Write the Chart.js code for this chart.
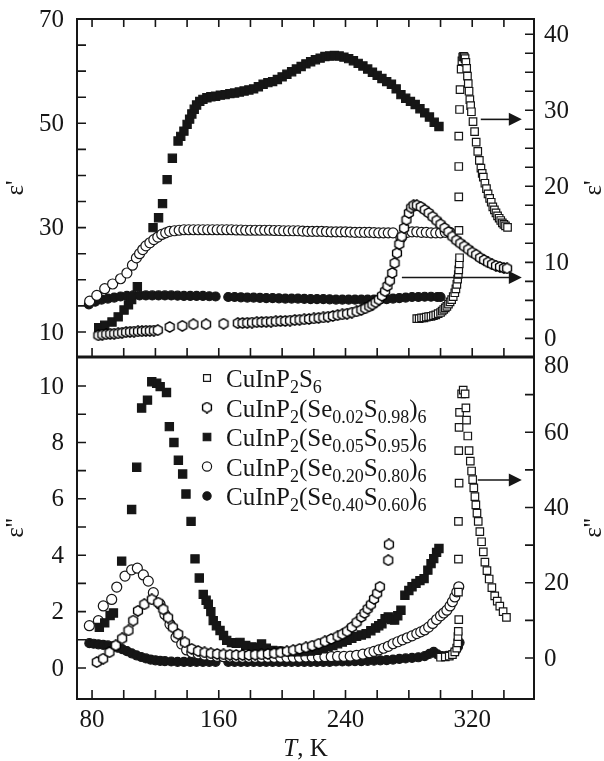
<!DOCTYPE html>
<html>
<head>
<meta charset="utf-8">
<script src="https://cdn.jsdelivr.net/npm/chart.js@4.4.0/dist/chart.umd.min.js"></script>
<style>
  html, body { margin: 0; padding: 0; background: #fff; }
  #wrap { position: relative; width: 604px; height: 761px; overflow: hidden; }
  canvas { position: absolute; left: 0; }
  #top { top: 0; }
  #bot { top: 330px; }
</style>
</head>
<body>
<div id="wrap">
  <canvas id="top" width="604" height="380"></canvas>
  <canvas id="bot" width="604" height="431"></canvas>
</div>
<script>
// ---- axis ticks / labels ----
const tempTicks = [80, 100, 120, 140, 160, 180, 200, 220, 240, 260, 280, 300, 320, 340];
const tempLabels = [80, 160, 240, 320];
const eps1Ticks = [10, 15, 20, 25, 30, 35, 40, 45, 50, 55, 60, 65, 70];
const eps1Labels = [10, 30, 50, 70];
const eps1RTicks = [0, 2.5, 5, 7.5, 10, 12.5, 15, 17.5, 20, 22.5, 25, 27.5, 30, 32.5, 35, 37.5, 40];
const eps1RLabels = [0, 10, 20, 30, 40];
const eps2Ticks = [0, 1, 2, 3, 4, 5, 6, 7, 8, 9, 10];
const eps2Labels = [0, 2, 4, 6, 8, 10];
const eps2RTicks = [0, 10, 20, 30, 40, 50, 60, 70, 80];
const eps2RLabels = [0, 20, 40, 60, 80];

const legendNames = ['CuInP2S6', 'CuInP2(Se0.02S0.98)6', 'CuInP2(Se0.05S0.95)6',
                     'CuInP2(Se0.20S0.80)6', 'CuInP2(Se0.40S0.60)6'];

// ---- eps' (upper panel), [T, value] ----
// CuInP2S6 and x=0.02 are read on the right axis
const cipsEps1 = [[285,2.6],[286.5,2.6],[288,2.7],[289.5,2.7],[291,2.8],[292.5,2.85],[294,2.9],[295.5,3.0],[297,3.1],[298.5,3.25],[300,3.4],[301,3.6],[302,3.8],[303,4.0],[304,4.2],[305,4.5],[306,4.8],[307,5.1],[308,5.5],[309,6.0],[309.7,6.5],[310.3,7.1],[310.8,7.8],[311.2,8.4],[311.5,9.0],[311.8,9.8],[312,10.6],[311.6,14.2],[311.5,18.6],[311.5,22.6],[311.5,26.6],[312,30.1],[312.3,32.7],[313,35.4],[313.5,36.5],[314,37.0],[314.5,37.1],[315,37.0],[315.5,36.8],[316,36.3],[316.5,35.5],[317,34.5],[317.5,33.5],[318,32.5],[318.5,31.4],[319,30.6],[319.5,29.8],[320.5,28.5],[321.5,27.2],[322.5,25.8],[323.5,24.6],[324.5,23.4],[325.5,22.4],[326.3,21.7],[327,21.2],[328,20.4],[329,19.7],[330,19.0],[331,18.4],[332,17.9],[333,17.3],[334,16.9],[335,16.5],[336,16.1],[337,15.8],[338,15.5],[339,15.2],[340,15.0],[341,14.8],[342.3,14.6]];
const s02Eps1 = [[84,0.4],[86.5,0.5],[89,0.55],[91.5,0.6],[94,0.62],[96.5,0.66],[99,0.75],[101.5,0.82],[104,0.87],[106.5,0.9],[109,0.92],[111.5,0.95],[114,1.0],[116.5,1.0],[119,1.03],[121.5,1.08],[129,1.5],[137,1.65],[144,1.85],[152,1.85],[163,1.93],[172,2.0],[175,2.02],[178,2.05],[181,2.08],[184,2.12],[187,2.15],[190,2.18],[193,2.2],[196,2.25],[199,2.28],[202,2.3],[205,2.35],[208,2.4],[211,2.45],[214,2.5],[217,2.55],[220,2.62],[223,2.7],[226,2.75],[229,2.85],[232,2.95],[235,3.05],[238,3.15],[241,3.25],[244,3.4],[247,3.55],[250,3.75],[252.5,3.95],[255,4.2],[257,4.45],[259,4.75],[261,5.1],[263,5.6],[265,6.2],[266.5,6.9],[268,7.6],[269.5,8.6],[271,9.9],[272.5,11.2],[274,12.4],[275.5,13.4],[277,14.5],[278.5,15.6],[280,16.5],[281.5,17.2],[283,17.5],[285,17.5],[287.5,17.3],[290,16.9],[292.5,16.5],[295,16.0],[297.5,15.5],[300,15.0],[302.5,14.5],[305,14.0],[307.5,13.4],[310,12.9],[312.5,12.5],[315,12.1],[317.5,11.7],[320,11.3],[322.5,11.0],[325,10.6],[327.5,10.3],[330,10.0],[332.5,9.75],[335,9.55],[337.5,9.4],[340,9.25],[342,9.2]];
// the rest on the left axis
const s05Eps1 = [[84.2,10.8],[88,11.3],[92.6,11.9],[96.5,12.9],[100.2,14.2],[103,15.2],[105,16.2],[108.6,18.7],[118.5,30],[122,31.9],[124.5,34.6],[127.4,39.2],[130.7,43.3],[134.3,46.6],[136,47.5],[138,48.5],[140,49.8],[141.6,50.8],[143,51.8],[144.5,52.7],[146,53.5],[148,54.2],[150,54.6],[152.5,54.9],[155,55.1],[158,55.2],[161,55.4],[164,55.5],[167,55.7],[170,55.8],[173,56.0],[176,56.2],[179,56.4],[182,56.6],[185,57.0],[188,57.5],[191,57.8],[194,58.0],[197,58.4],[200,58.9],[203,59.4],[206,59.9],[209,60.4],[212,60.9],[215,61.4],[218,61.8],[221,62.2],[224,62.5],[227,62.8],[230,62.9],[233,63.0],[236,62.9],[239,62.7],[242,62.4],[245,62.0],[248,61.5],[251,61.0],[254,60.4],[257,59.8],[260,59.2],[263,58.6],[266,58.0],[269,57.5],[272,56.6],[275,55.5],[278,54.8],[281,54.2],[284,53.6],[287,52.8],[290,52.0],[293,51.2],[296,50.2],[299,49.4]];
const s20Eps1 = [[78.5,15.9],[83,17.0],[88,18.3],[93,19.2],[98,20.2],[102,21.3],[105.5,22.8],[108,24.2],[110,25.0],[112,25.8],[114,26.5],[116.5,27.1],[119,27.7],[121.5,28.2],[124,28.7],[126.5,29.0],[129,29.3],[132,29.4],[135,29.5],[138,29.6],[141,29.6],[144,29.6],[147,29.6],[150,29.6],[153,29.6],[156,29.6],[159,29.6],[162,29.6],[165,29.6],[168,29.6],[171,29.55],[174,29.55],[177,29.5],[180,29.5],[183,29.5],[186,29.5],[189,29.5],[192,29.5],[195,29.45],[198,29.45],[201,29.4],[204,29.4],[207,29.4],[210,29.4],[213,29.35],[216,29.3],[219,29.3],[222,29.3],[225,29.3],[228,29.25],[231,29.2],[234,29.2],[237,29.2],[240,29.2],[243,29.15],[246,29.1],[249,29.1],[252,29.1],[255,29.1],[258,29.05],[261,29.0],[264,29.0],[267,29.0],[270,29.0],[275,28.0],[279,29.1],[282,29.2],[285,29.2],[288,29.1],[291,29.1],[294,29.0],[297,29.0],[300,29.0],[303,29.1],[306,29.1]];
const s40Eps1 = [[78,15.3],[82,15.8],[86,16.2],[90,16.4],[94,16.6],[98,16.8],[102,16.9],[106,17.0],[110,17.0],[114,17.0],[118,17.0],[122,17.0],[126,17.0],[130,17.0],[134,16.95],[138,16.9],[142,16.9],[146,16.9],[150,16.9],[154,16.85],[158,16.8],[166,16.7],[170,16.7],[174,16.65],[178,16.6],[182,16.6],[186,16.55],[190,16.5],[194,16.5],[198,16.45],[202,16.4],[206,16.4],[210,16.4],[214,16.35],[218,16.3],[222,16.3],[226,16.3],[230,16.25],[234,16.2],[238,16.2],[242,16.2],[246,16.2],[250,16.2],[254,16.2],[258,16.2],[262,16.25],[266,16.3],[270,16.4],[274,16.5],[278,16.6],[282,16.7],[286,16.7],[290,16.75],[294,16.75],[298,16.7],[300,16.7]];

// ---- eps'' (lower panel), [T, value] ----
// CuInP2S6 on the right axis
const cipsEps2 = [[300,0.2],[303,0.3],[305.5,0.5],[307.5,0.9],[309,1.6],[310.2,2.6],[310.8,4.0],[311,5.7],[311.2,7.1],[311.5,10.2],[311.3,17.5],[311.3,26.3],[311.3,36.3],[311.7,46.5],[311.5,55.1],[311.7,61.3],[312,65.3],[313.3,70.2],[314.3,71.2],[315.5,70.2],[316,66.5],[316.4,63.2],[317.2,59],[318,55.1],[318.8,52.3],[319.6,49.7],[320.3,47.4],[321,45.2],[321.7,42.9],[322.3,40.7],[323,38.5],[323.8,36.3],[324.8,33.6],[325.9,30.9],[327,28.2],[328,25.5],[329.3,23.2],[330.7,21.0],[332.4,18.7],[334.2,16.5],[335.8,15.1],[337.4,13.8],[339.5,12.3],[341.6,10.8]];
const s02Eps2 = [[83,0.21],[87,0.33],[91,0.56],[95,0.8],[99,1.05],[103,1.33],[106,1.68],[109,2.03],[113,2.26],[117.7,2.43],[121.8,2.32],[125,2.08],[128,1.79],[131,1.44],[134.4,1.2],[138.6,0.91],[142.9,0.68],[147,0.6],[151,0.55],[155,0.52],[159,0.5],[163,0.48],[167,0.47],[171,0.46],[175,0.46],[179,0.46],[183,0.47],[187,0.48],[191,0.5],[195,0.52],[199,0.55],[203,0.59],[207,0.63],[211,0.68],[215,0.73],[219,0.79],[223,0.86],[227,0.94],[231,1.03],[235,1.12],[238,1.2],[241,1.3],[244,1.45],[247,1.62],[250,1.81],[252,1.95],[254,2.1],[256,2.25],[258,2.45],[260,2.65],[261.7,2.88],[267,3.82],[267.4,4.38]];
const s05Eps2 = [[84.6,1.44],[88,1.6],[91.4,1.86],[93.5,1.95],[98.7,3.79],[105,5.62],[108.2,7.12],[111.3,9.22],[115,9.5],[117.7,10.15],[120.8,10.1],[123,9.98],[127,9.77],[128.8,8.56],[131.7,8.0],[134.5,7.37],[137.2,6.88],[139.3,6.17],[142.5,5.2],[145,3.87],[147.7,3.19],[150.2,2.61],[152,2.4],[153.4,2.26],[155,2.0],[156.5,1.68],[158.5,1.5],[160.8,1.33],[163,1.15],[165,0.98],[168,0.9],[171,0.88],[173.4,0.91],[177,0.8],[181,0.75],[184,0.72],[187,0.85],[190,0.7],[194,0.62],[198,0.6],[202,0.58],[206,0.57],[210,0.57],[214,0.58],[218,0.6],[222,0.63],[226,0.68],[229,0.75],[232,0.8],[235,0.86],[238,0.92],[241,0.98],[244,1.05],[247,1.12],[250,1.17],[253,1.22],[256,1.32],[259,1.42],[261,1.5],[263,1.57],[265,1.75],[267,1.81],[269,1.72],[271,1.7],[273,1.85],[275,2.05],[277.5,2.58],[280,2.75],[282,2.88],[284.5,3.0],[287,3.1],[289.6,3.17],[292,3.47],[294,3.7],[295.7,3.88],[297.5,4.1],[299,4.24]];
const s20Eps2 = [[78.3,1.5],[84,1.68],[87.1,2.2],[92.4,2.43],[95.6,2.87],[100.8,3.26],[105,3.48],[108.6,3.54],[112.4,3.3],[115.5,3.08],[118.7,2.67],[122.9,2.26],[126,1.9],[129.2,1.55],[133,1.09],[136.6,0.85],[139.7,0.64],[143,0.55],[147,0.5],[151,0.46],[155,0.43],[159,0.41],[163,0.4],[167,0.39],[171,0.38],[175,0.38],[179,0.38],[183,0.38],[187,0.38],[191,0.38],[195,0.38],[199,0.38],[203,0.38],[207,0.38],[211,0.38],[215,0.39],[219,0.39],[223,0.39],[227,0.4],[231,0.4],[235,0.41],[239,0.41],[243,0.42],[247,0.45],[251,0.49],[255,0.54],[258,0.59],[261,0.64],[264,0.7],[267,0.77],[270,0.86],[273,0.93],[276,1.0],[279,1.07],[282,1.14],[285,1.22],[287.5,1.28],[290,1.35],[292.5,1.45],[295,1.58],[297.5,1.72],[300,1.85],[302,1.95],[304,2.05],[306,2.2],[307.5,2.35],[309,2.52],[310.3,2.7],[311.5,2.88]];
const s40Eps2 = [[78.3,0.88],[81,0.86],[84,0.84],[87,0.82],[90,0.8],[93,0.77],[96,0.72],[99,0.67],[102,0.6],[105,0.52],[108,0.45],[111,0.39],[114,0.34],[117,0.3],[120,0.27],[123,0.25],[126,0.24],[130,0.23],[134,0.22],[138,0.22],[142,0.22],[146,0.22],[150,0.22],[154,0.22],[158,0.22],[166,0.22],[170,0.22],[174,0.22],[178,0.22],[182,0.22],[186,0.22],[190,0.22],[194,0.22],[198,0.22],[202,0.22],[206,0.22],[210,0.22],[214,0.22],[218,0.22],[222,0.22],[226,0.22],[230,0.22],[234,0.23],[238,0.23],[242,0.23],[246,0.24],[250,0.24],[254,0.25],[258,0.26],[262,0.27],[266,0.28],[270,0.3],[274,0.32],[278,0.34],[282,0.36],[286,0.38],[290,0.42],[293,0.5],[295.7,0.57],[298,0.48],[301,0.42],[304,0.43],[307,0.47],[309,0.57],[311,0.75],[312,0.9]];

// arrows pointing to the right axis: from T, to T, at right-axis value
const arrowsTop = [{ from: 325.4, to: 351.3, at: 28.8 }, { from: 275.6, to: 351.3, at: 8.0 }];
const arrowsBottom = [{ from: 323.5, to: 351.3, at: 47.3 }];

const ink = '#161616';
const serif = '"Liberation Serif", "Times New Roman", serif';

function hexagon(size) {
  const c = document.createElement('canvas');
  c.width = c.height = size;
  const g = c.getContext('2d');
  const r = size / 2 - 0.9;
  g.beginPath();
  for (let i = 0; i < 6; i++) {
    const a = -Math.PI / 2 + i * Math.PI / 3;
    const px = size / 2 + r * Math.cos(a), py = size / 2 + r * Math.sin(a);
    if (i === 0) g.moveTo(px, py); else g.lineTo(px, py);
  }
  g.closePath();
  g.fillStyle = '#fff';
  g.fill();
  g.strokeStyle = '#000';
  g.lineWidth = 1.4;
  g.stroke();
  return c;
}
const hex = hexagon(12);

const marks = [
  { pointStyle: 'rect', radius: 5.3, fill: '#fff' },
  { pointStyle: hex, radius: 6, fill: '#fff' },
  { pointStyle: 'rect', radius: 5.8, fill: ink },
  { pointStyle: 'circle', radius: 5, fill: '#fff' },
  { pointStyle: 'circle', radius: 4.5, fill: ink }
];

function dataset(i, data, axis) {
  const m = marks[i];
  return {
    label: legendNames[i], data: data, yAxisID: axis, clip: 0,
    pointStyle: m.pointStyle, pointRadius: m.radius,
    backgroundColor: m.fill, borderColor: ink, pointBorderWidth: 1.2
  };
}

function drawFormula(ctx, str, x, y) {
  str.replace(/([0-9.]+)|([^0-9.]+)/g, (m, num) => {
    ctx.font = num ? '18px ' + serif : '25px ' + serif;
    ctx.fillText(m, x, num ? y + 6 : y);
    x += ctx.measureText(m).width;
  });
}

function panel(cfg) {
  return {
    id: 'panel',
    afterDraw(chart) {
      const { ctx, chartArea: a, scales } = chart;
      const x = scales.x, yL = scales.yL, yR = scales.yR;
      ctx.save();
      ctx.beginPath();
      ctx.strokeStyle = ink;
      ctx.fillStyle = ink;
      ctx.lineWidth = 2;
      ctx.strokeRect(a.left, a.top, a.right - a.left, a.bottom - a.top);
      if (cfg.divider) {
        ctx.lineWidth = 3.2;
        ctx.beginPath(); ctx.moveTo(a.left - 1, a.top); ctx.lineTo(a.right + 1, a.top); ctx.stroke();
      }
      ctx.lineWidth = 1.6;
      ctx.beginPath();
      tempTicks.forEach(t => {
        const px = x.getPixelForValue(t);
        ctx.moveTo(px, a.bottom); ctx.lineTo(px, a.bottom - 9);
        if (cfg.topTicks) { ctx.moveTo(px, a.top); ctx.lineTo(px, a.top + 8); }
      });
      cfg.leftTicks.forEach(v => {
        const py = yL.getPixelForValue(v);
        ctx.moveTo(a.left, py); ctx.lineTo(a.left + 9, py);
      });
      cfg.rightTicks.forEach(v => {
        const py = yR.getPixelForValue(v);
        ctx.moveTo(a.right, py); ctx.lineTo(a.right - 9, py);
      });
      ctx.stroke();
      ctx.beginPath();

      ctx.font = '25px ' + serif;
      ctx.textBaseline = 'middle';
      ctx.textAlign = 'right';
      cfg.leftLabels.forEach(v => ctx.fillText(String(v), a.left - 13, yL.getPixelForValue(v) + 1));
      ctx.textAlign = 'left';
      cfg.rightLabels.forEach(v => {
        let py = yR.getPixelForValue(v) + 1;
        if (py < a.top + 4) py += 8;
        ctx.fillText(String(v), a.right + 10, py);
      });
      if (cfg.xLabels) {
        ctx.textAlign = 'center';
        ctx.textBaseline = 'top';
        tempLabels.forEach(t => ctx.fillText(String(t), x.getPixelForValue(t), a.bottom + 9));
        ctx.textBaseline = 'alphabetic';
        const cx = (a.left + a.right) / 2;
        ctx.font = 'italic 25px ' + serif;
        const wT = ctx.measureText('T').width;
        ctx.font = '25px ' + serif;
        const wR = ctx.measureText(', K').width;
        const x0 = cx - (wT + wR) / 2;
        ctx.textAlign = 'left';
        ctx.font = 'italic 25px ' + serif;
        ctx.fillText('T', x0, a.bottom + 57);
        ctx.font = '25px ' + serif;
        ctx.fillText(', K', x0 + wT, a.bottom + 57);
      }
      // axis titles, both read bottom-to-top
      const cy = (a.top + a.bottom) / 2;
      ctx.font = '25px ' + serif;
      ctx.textAlign = 'center';
      ctx.textBaseline = 'middle';
      [16, 594].forEach(tx => {
        ctx.save();
        ctx.translate(tx, cy);
        ctx.rotate(-Math.PI / 2);
        ctx.fillText(cfg.title, 0, 0);
        ctx.restore();
      });
      // arrows
      ctx.lineWidth = 1.6;
      cfg.arrows.forEach(ar => {
        const x1 = x.getPixelForValue(ar.from), x2 = x.getPixelForValue(ar.to);
        const py = yR.getPixelForValue(ar.at);
        ctx.beginPath(); ctx.moveTo(x1, py); ctx.lineTo(x2 - 10, py); ctx.stroke();
        ctx.beginPath(); ctx.moveTo(x2, py); ctx.lineTo(x2 - 13, py - 6.5); ctx.lineTo(x2 - 13, py + 6.5);
        ctx.closePath(); ctx.fill();
      });
      // legend
      if (cfg.legend) {
        legendNames.forEach((name, i) => {
          const cyRow = a.top + 21 + i * 29.5;
          const m = marks[i];
          ctx.fillStyle = m.fill;
          ctx.strokeStyle = ink;
          ctx.lineWidth = 1.2;
          Chart.helpers.drawPoint(ctx, { pointStyle: m.pointStyle, radius: m.radius * 0.92, borderWidth: 1.2, rotation: 0 },
            a.left + 130, cyRow);
          ctx.fillStyle = ink;
          ctx.textAlign = 'left';
          ctx.textBaseline = 'alphabetic';
          drawFormula(ctx, name, a.left + 149, cyRow + 9);
        });
      }
      ctx.restore();
    }
  };
}

function makeChart(id, datasets, pad, ranges, cfg) {
  return new Chart(document.getElementById(id), {
    type: 'scatter',
    data: { datasets: datasets },
    options: {
      responsive: false,
      animation: false,
      events: [],
      layout: { padding: pad },
      plugins: { legend: { display: false }, tooltip: { enabled: false } },
      scales: {
        x: { type: 'linear', min: 70.5, max: 359, display: false },
        yL: { type: 'linear', position: 'left', min: ranges[0], max: ranges[1], display: false },
        yR: { type: 'linear', position: 'right', min: ranges[2], max: ranges[3], display: false }
      }
    },
    plugins: [panel(cfg)]
  });
}

makeChart('top',
  [dataset(0, cipsEps1, 'yR'), dataset(1, s02Eps1, 'yR'), dataset(2, s05Eps1, 'yL'),
   dataset(3, s20Eps1, 'yL'), dataset(4, s40Eps1, 'yL')],
  { left: 77, right: 70, top: 19, bottom: 23 },
  [5.2, 70, -2.45, 42.0],
  { title: "ε'", topTicks: true, xLabels: false, divider: false,
    leftTicks: eps1Ticks, leftLabels: eps1Labels, rightTicks: eps1RTicks, rightLabels: eps1RLabels,
    arrows: arrowsTop, legend: false });

makeChart('bot',
  [dataset(0, cipsEps2, 'yR'), dataset(1, s02Eps2, 'yL'), dataset(2, s05Eps2, 'yL'),
   dataset(3, s20Eps2, 'yL'), dataset(4, s40Eps2, 'yL')],
  { left: 77, right: 70, top: 27, bottom: 62 },
  [-1.1, 11.03, -10.9, 80],
  { title: "ε''", topTicks: false, xLabels: true, divider: true,
    leftTicks: eps2Ticks, leftLabels: eps2Labels, rightTicks: eps2RTicks, rightLabels: eps2RLabels,
    arrows: arrowsBottom, legend: true });
</script>
</body>
</html>
